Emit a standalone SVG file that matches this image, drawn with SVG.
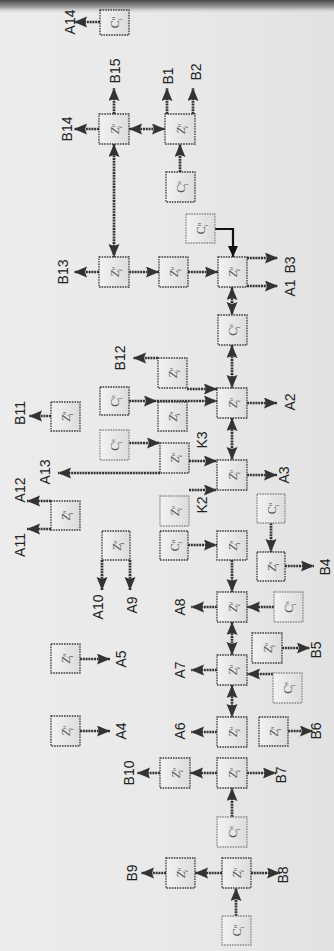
<svg xmlns="http://www.w3.org/2000/svg" width="334" height="951" viewBox="0 0 334 951">
<defs>
<linearGradient id="bg" x1="0" y1="0" x2="1" y2="0">
<stop offset="0" stop-color="#ececec"/><stop offset="0.5" stop-color="#e9e9e9"/><stop offset="1" stop-color="#e2e2e2"/>
</linearGradient>
<linearGradient id="top" x1="0" y1="0" x2="0" y2="1">
<stop offset="0" stop-color="#4a4a4a"/><stop offset="0.5" stop-color="#9a9a9a"/><stop offset="1" stop-color="#e6e6e6" stop-opacity="0"/>
</linearGradient>
<linearGradient id="box" x1="0" y1="0" x2="1" y2="0">
<stop offset="0" stop-color="#f2f2f2"/><stop offset="1" stop-color="#dcdcdc"/>
</linearGradient>
<marker id="ah" markerUnits="userSpaceOnUse" markerWidth="14" markerHeight="12" refX="13" refY="5.5" orient="auto-start-reverse">
<path d="M0,0 L13,5.5 L0,11 L2,5.5 z" fill="#333"/>
</marker>
<marker id="ahs" markerUnits="userSpaceOnUse" markerWidth="13" markerHeight="11" refX="11" refY="5" orient="auto">
<path d="M0,0 L11,5 L0,10 z" fill="#111"/>
</marker>
</defs>
<style>
.n rect{fill:url(#box);stroke:#3c3c3c;stroke-width:1.3;stroke-dasharray:1.6 1}
.n.l rect{stroke:#8a8a8a}
.n text{font-family:"Liberation Serif",serif;font-size:12px;fill:#555}
.n text tspan{font-size:6.5px}
.c line,.c polyline{stroke:#333;stroke-width:2.7;stroke-dasharray:2 0.8;fill:none}
.c .s{marker-end:url(#ah)}
.c .d{marker-start:url(#ah);marker-end:url(#ah)}
.c .t{stroke:#111;stroke-dasharray:none;stroke-width:2.2;marker-end:url(#ahs)}
.lb text{font-family:"Liberation Sans",Arial,sans-serif;font-size:14px;fill:#222;text-anchor:middle}
</style>
<rect width="334" height="951" fill="url(#bg)"/>
<rect width="334" height="14" fill="url(#top)"/>

<g id="connectors" class="c">
<line class="s" x1="100" y1="22" x2="74" y2="22"/>
<line class="s" x1="99" y1="129" x2="74" y2="129"/>
<line class="s" x1="114" y1="114" x2="114" y2="88"/>
<line class="s" x1="167" y1="114" x2="167" y2="88"/>
<line class="s" x1="193" y1="114" x2="193" y2="88"/>
<line class="d" x1="129" y1="129" x2="165" y2="129"/>
<line class="d" x1="114" y1="144" x2="114" y2="257"/>
<line class="s" x1="180" y1="172" x2="180" y2="144"/>
<polyline class="t" points="215,229 233,229 233,257"/>
<line class="s" x1="99" y1="272" x2="74" y2="272"/>
<line class="s" x1="129" y1="272" x2="159" y2="272"/>
<line class="s" x1="188" y1="272" x2="218" y2="272"/>
<line class="s" x1="247" y1="258" x2="278" y2="258"/>
<line class="s" x1="247" y1="286" x2="278" y2="286"/>
<line class="d" x1="232" y1="287" x2="232" y2="315"/>
<line class="d" x1="232" y1="345" x2="232" y2="388"/>
<line class="s" x1="247" y1="403" x2="277" y2="403"/>
<line class="s" x1="158" y1="358" x2="133" y2="358"/>
<line class="s" x1="187" y1="389" x2="217" y2="389"/>
<line class="s" x1="129" y1="401" x2="157" y2="401"/>
<line class="s" x1="157" y1="401" x2="217" y2="401"/>
<line class="s" x1="51" y1="416" x2="29" y2="416"/>
<line class="d" x1="232" y1="418" x2="232" y2="460"/>
<line class="s" x1="129" y1="443" x2="160" y2="443"/>
<line class="s" x1="189" y1="461" x2="217" y2="461"/>
<line class="s" x1="189" y1="490" x2="217" y2="490"/>
<line class="s" x1="160" y1="473" x2="58" y2="473"/>
<line class="s" x1="247" y1="475" x2="277" y2="475"/>
<line class="s" x1="51" y1="501" x2="27" y2="501"/>
<line class="s" x1="51" y1="529" x2="27" y2="529"/>
<line class="s" x1="102" y1="560" x2="102" y2="590"/>
<line class="s" x1="130" y1="560" x2="130" y2="590"/>
<line class="s" x1="188" y1="545" x2="217" y2="545"/>
<line class="s" x1="232" y1="560" x2="232" y2="592"/>
<line class="s" x1="271" y1="523" x2="271" y2="552"/>
<line class="s" x1="285" y1="566" x2="314" y2="566"/>
<line class="s" x1="217" y1="607" x2="191" y2="607"/>
<line class="s" x1="274" y1="607" x2="247" y2="607"/>
<line class="d" x1="232" y1="622" x2="232" y2="655"/>
<line class="s" x1="217" y1="670" x2="191" y2="670"/>
<line class="s" x1="273" y1="674" x2="247" y2="674"/>
<line class="s" x1="282" y1="648" x2="310" y2="648"/>
<line class="s" x1="80" y1="659" x2="110" y2="659"/>
<line class="s" x1="80" y1="731" x2="110" y2="731"/>
<line class="d" x1="232" y1="685" x2="232" y2="717"/>
<line class="s" x1="217" y1="732" x2="191" y2="732"/>
<line class="s" x1="288" y1="731" x2="313" y2="731"/>
<line class="s" x1="160" y1="773" x2="137" y2="773"/>
<line class="s" x1="217" y1="773" x2="190" y2="773"/>
<line class="s" x1="247" y1="773" x2="276" y2="773"/>
<line class="s" x1="232" y1="817" x2="232" y2="788"/>
<line class="s" x1="166" y1="873" x2="141" y2="873"/>
<line class="s" x1="222" y1="873" x2="195" y2="873"/>
<line class="s" x1="251" y1="873" x2="280" y2="873"/>
<line class="s" x1="236" y1="916" x2="236" y2="888"/>
</g>

<g id="n1" class="n"><rect x="100" y="10" width="29" height="25"/><text transform="translate(118.5,22.5) rotate(-90)" text-anchor="middle">C<tspan dy="-4">н</tspan><tspan dx="-4" dy="7">i</tspan></text></g>
<g id="n2" class="n"><rect x="99" y="114" width="30" height="30"/><text transform="translate(118.5,129) rotate(-90)" text-anchor="middle" font-style="italic">Z<tspan dy="-4">н</tspan><tspan dx="-4" dy="7">i</tspan></text></g>
<g id="n3" class="n"><rect x="165" y="114" width="30" height="30"/><text transform="translate(184.5,129) rotate(-90)" text-anchor="middle" font-style="italic">Z<tspan dy="-4">н</tspan><tspan dx="-4" dy="7">i</tspan></text></g>
<g id="n4" class="n"><rect x="166" y="172" width="29" height="30"/><text transform="translate(184.5,187) rotate(-90)" text-anchor="middle">C<tspan dy="-4">н</tspan><tspan dx="-4" dy="7">i</tspan></text></g>
<g id="n5" class="n l"><rect x="186" y="214" width="29" height="29"/><text transform="translate(204.5,228.5) rotate(-90)" text-anchor="middle">C<tspan dy="-4">н</tspan><tspan dx="-4" dy="7">i</tspan></text></g>
<g id="n6" class="n"><rect x="99" y="257" width="30" height="30"/><text transform="translate(118.5,272) rotate(-90)" text-anchor="middle" font-style="italic">Z<tspan dy="-4">н</tspan><tspan dx="-4" dy="7">i</tspan></text></g>
<g id="n7" class="n"><rect x="159" y="257" width="29" height="30"/><text transform="translate(177.5,272) rotate(-90)" text-anchor="middle" font-style="italic">Z<tspan dy="-4">н</tspan><tspan dx="-4" dy="7">i</tspan></text></g>
<g id="n8" class="n"><rect x="218" y="257" width="29" height="30"/><text transform="translate(236.5,272) rotate(-90)" text-anchor="middle" font-style="italic">Z<tspan dy="-4">н</tspan><tspan dx="-4" dy="7">i</tspan></text></g>
<g id="n9" class="n"><rect x="218" y="315" width="29" height="30"/><text transform="translate(236.5,330) rotate(-90)" text-anchor="middle">C<tspan dy="-4">н</tspan><tspan dx="-4" dy="7">i</tspan></text></g>
<g id="n10" class="n"><rect x="217" y="388" width="30" height="30"/><text transform="translate(236.5,403) rotate(-90)" text-anchor="middle" font-style="italic">Z<tspan dy="-4">н</tspan><tspan dx="-4" dy="7">i</tspan></text></g>
<g id="n11" class="n"><rect x="158" y="358" width="29" height="30"/><text transform="translate(176.5,373) rotate(-90)" text-anchor="middle" font-style="italic">Z<tspan dy="-4">н</tspan><tspan dx="-4" dy="7">i</tspan></text></g>
<g id="n12" class="n"><rect x="100" y="387" width="29" height="28"/><text transform="translate(118.5,401) rotate(-90)" text-anchor="middle">C<tspan dy="-4">н</tspan><tspan dx="-4" dy="7">i</tspan></text></g>
<g id="n13" class="n"><rect x="158" y="402" width="29" height="29"/><text transform="translate(176.5,416.5) rotate(-90)" text-anchor="middle" font-style="italic">Z<tspan dy="-4">н</tspan><tspan dx="-4" dy="7">i</tspan></text></g>
<g id="n14" class="n"><rect x="51" y="402" width="29" height="29"/><text transform="translate(69.5,416.5) rotate(-90)" text-anchor="middle" font-style="italic">Z<tspan dy="-4">н</tspan><tspan dx="-4" dy="7">i</tspan></text></g>
<g id="n15" class="n l"><rect x="100" y="430" width="29" height="30"/><text transform="translate(118.5,445) rotate(-90)" text-anchor="middle">C<tspan dy="-4">н</tspan><tspan dx="-4" dy="7">i</tspan></text></g>
<g id="n16" class="n"><rect x="160" y="443" width="29" height="30"/><text transform="translate(178.5,458) rotate(-90)" text-anchor="middle" font-style="italic">Z<tspan dy="-4">н</tspan><tspan dx="-4" dy="7">i</tspan></text></g>
<g id="n17" class="n"><rect x="217" y="460" width="30" height="30"/><text transform="translate(236.5,475) rotate(-90)" text-anchor="middle" font-style="italic">Z<tspan dy="-4">н</tspan><tspan dx="-4" dy="7">i</tspan></text></g>
<g id="n18" class="n l"><rect x="160" y="496" width="29" height="30"/><text transform="translate(178.5,511) rotate(-90)" text-anchor="middle" font-style="italic">Z<tspan dy="-4">н</tspan><tspan dx="-4" dy="7">i</tspan></text></g>
<g id="n19" class="n"><rect x="51" y="501" width="29" height="29"/><text transform="translate(69.5,515.5) rotate(-90)" text-anchor="middle" font-style="italic">Z<tspan dy="-4">н</tspan><tspan dx="-4" dy="7">i</tspan></text></g>
<g id="n20" class="n"><rect x="102" y="531" width="28" height="29"/><text transform="translate(120.5,545.5) rotate(-90)" text-anchor="middle" font-style="italic">Z<tspan dy="-4">н</tspan><tspan dx="-4" dy="7">i</tspan></text></g>
<g id="n21" class="n"><rect x="160" y="531" width="28" height="29"/><text transform="translate(178.5,545.5) rotate(-90)" text-anchor="middle">C<tspan dy="-4">н</tspan><tspan dx="-4" dy="7">i</tspan></text></g>
<g id="n22" class="n"><rect x="217" y="531" width="30" height="29"/><text transform="translate(236.5,545.5) rotate(-90)" text-anchor="middle" font-style="italic">Z<tspan dy="-4">н</tspan><tspan dx="-4" dy="7">i</tspan></text></g>
<g id="n23" class="n l"><rect x="257" y="494" width="28" height="29"/><text transform="translate(275.5,508.5) rotate(-90)" text-anchor="middle">C<tspan dy="-4">н</tspan><tspan dx="-4" dy="7">i</tspan></text></g>
<g id="n24" class="n"><rect x="257" y="552" width="28" height="29"/><text transform="translate(275.5,566.5) rotate(-90)" text-anchor="middle" font-style="italic">Z<tspan dy="-4">н</tspan><tspan dx="-4" dy="7">i</tspan></text></g>
<g id="n25" class="n"><rect x="217" y="592" width="30" height="30"/><text transform="translate(236.5,607) rotate(-90)" text-anchor="middle" font-style="italic">Z<tspan dy="-4">н</tspan><tspan dx="-4" dy="7">i</tspan></text></g>
<g id="n26" class="n l"><rect x="274" y="592" width="29" height="30"/><text transform="translate(292.5,607) rotate(-90)" text-anchor="middle">C<tspan dy="-4">н</tspan><tspan dx="-4" dy="7">i</tspan></text></g>
<g id="n27" class="n"><rect x="252" y="633" width="30" height="30"/><text transform="translate(271.5,648) rotate(-90)" text-anchor="middle" font-style="italic">Z<tspan dy="-4">н</tspan><tspan dx="-4" dy="7">i</tspan></text></g>
<g id="n28" class="n"><rect x="217" y="655" width="30" height="30"/><text transform="translate(236.5,670) rotate(-90)" text-anchor="middle" font-style="italic">Z<tspan dy="-4">н</tspan><tspan dx="-4" dy="7">i</tspan></text></g>
<g id="n29" class="n l"><rect x="273" y="673" width="29" height="30"/><text transform="translate(291.5,688) rotate(-90)" text-anchor="middle">C<tspan dy="-4">н</tspan><tspan dx="-4" dy="7">i</tspan></text></g>
<g id="n30" class="n"><rect x="51" y="644" width="29" height="29"/><text transform="translate(69.5,658.5) rotate(-90)" text-anchor="middle" font-style="italic">Z<tspan dy="-4">н</tspan><tspan dx="-4" dy="7">i</tspan></text></g>
<g id="n31" class="n"><rect x="51" y="716" width="29" height="30"/><text transform="translate(69.5,731) rotate(-90)" text-anchor="middle" font-style="italic">Z<tspan dy="-4">н</tspan><tspan dx="-4" dy="7">i</tspan></text></g>
<g id="n32" class="n"><rect x="217" y="717" width="30" height="30"/><text transform="translate(236.5,732) rotate(-90)" text-anchor="middle" font-style="italic">Z<tspan dy="-4">н</tspan><tspan dx="-4" dy="7">i</tspan></text></g>
<g id="n33" class="n"><rect x="259" y="717" width="29" height="29"/><text transform="translate(277.5,731.5) rotate(-90)" text-anchor="middle" font-style="italic">Z<tspan dy="-4">н</tspan><tspan dx="-4" dy="7">i</tspan></text></g>
<g id="n34" class="n"><rect x="160" y="758" width="30" height="30"/><text transform="translate(179.5,773) rotate(-90)" text-anchor="middle" font-style="italic">Z<tspan dy="-4">н</tspan><tspan dx="-4" dy="7">i</tspan></text></g>
<g id="n35" class="n"><rect x="217" y="758" width="30" height="30"/><text transform="translate(236.5,773) rotate(-90)" text-anchor="middle" font-style="italic">Z<tspan dy="-4">н</tspan><tspan dx="-4" dy="7">i</tspan></text></g>
<g id="n36" class="n l"><rect x="217" y="817" width="30" height="30"/><text transform="translate(236.5,832) rotate(-90)" text-anchor="middle">C<tspan dy="-4">н</tspan><tspan dx="-4" dy="7">i</tspan></text></g>
<g id="n37" class="n"><rect x="166" y="858" width="29" height="30"/><text transform="translate(184.5,873) rotate(-90)" text-anchor="middle" font-style="italic">Z<tspan dy="-4">н</tspan><tspan dx="-4" dy="7">i</tspan></text></g>
<g id="n38" class="n"><rect x="222" y="858" width="29" height="30"/><text transform="translate(240.5,873) rotate(-90)" text-anchor="middle" font-style="italic">Z<tspan dy="-4">н</tspan><tspan dx="-4" dy="7">i</tspan></text></g>
<g id="n39" class="n l"><rect x="222" y="916" width="29" height="29"/><text transform="translate(240.5,930.5) rotate(-90)" text-anchor="middle">C<tspan dy="-4">н</tspan><tspan dx="-4" dy="7">i</tspan></text></g>

<g id="labels" class="lb">
<text transform="translate(75,22) rotate(-90)">A14</text>
<text transform="translate(72,129) rotate(-90)">B14</text>
<text transform="translate(120,71) rotate(-90)">B15</text>
<text transform="translate(173,76) rotate(-90)">B1</text>
<text transform="translate(201,72) rotate(-90)">B2</text>
<text transform="translate(68,272) rotate(-90)">B13</text>
<text transform="translate(295,288) rotate(-90)">A1</text>
<text transform="translate(295,265) rotate(-90)">B3</text>
<text transform="translate(125,358) rotate(-90)">B12</text>
<text transform="translate(295,402) rotate(-90)">A2</text>
<text transform="translate(25,413) rotate(-90)">B11</text>
<text transform="translate(50,472) rotate(-90)">A13</text>
<text transform="translate(207,440) rotate(-90)">K3</text>
<text transform="translate(207,505) rotate(-90)">K2</text>
<text transform="translate(289,475) rotate(-90)">A3</text>
<text transform="translate(25,490) rotate(-90)">A12</text>
<text transform="translate(25,545) rotate(-90)">A11</text>
<text transform="translate(103,607) rotate(-90)">A10</text>
<text transform="translate(137,605) rotate(-90)">A9</text>
<text transform="translate(330,567) rotate(-90)">B4</text>
<text transform="translate(185,607) rotate(-90)">A8</text>
<text transform="translate(321,650) rotate(-90)">B5</text>
<text transform="translate(185,670) rotate(-90)">A7</text>
<text transform="translate(126,659) rotate(-90)">A5</text>
<text transform="translate(126,731) rotate(-90)">A4</text>
<text transform="translate(185,731) rotate(-90)">A6</text>
<text transform="translate(321,731) rotate(-90)">B6</text>
<text transform="translate(134,773) rotate(-90)">B10</text>
<text transform="translate(286,775) rotate(-90)">B7</text>
<text transform="translate(137,873) rotate(-90)">B9</text>
<text transform="translate(288,875) rotate(-90)">B8</text>
</g>
</svg>
